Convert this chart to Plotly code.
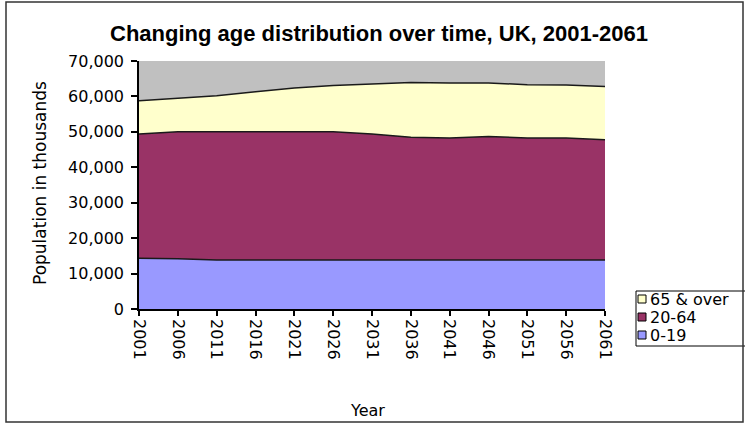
import plotly.graph_objects as go

years = [2001, 2006, 2011, 2016, 2021, 2026, 2031, 2036, 2041, 2046, 2051, 2056, 2061]
age_0_19 = [14300, 14200, 13800, 13800, 13800, 13800, 13800, 13800, 13800, 13800, 13800, 13800, 13800]
age_20_64 = [35100, 35800, 36200, 36200, 36200, 36200, 35600, 34700, 34500, 34900, 34500, 34500, 34000]
age_65_over = [9400, 9600, 10200, 11300, 12400, 13100, 14100, 15400, 15500, 15100, 15000, 14900, 15000]
series_names = ["0-19", "20-64", "65 & over"]
series_colors = ["#9999FF", "#993366", "#FFFFCC"]
y_ticks = [0, 10000, 20000, 30000, 40000, 50000, 60000, 70000]

TXT = "DejaVu Sans"

fig = go.Figure()
for name, vals, col in zip(series_names, [age_0_19, age_20_64, age_65_over], series_colors):
    fig.add_trace(go.Scatter(
        x=years, y=vals, name=name, mode="lines", stackgroup="one",
        line=dict(color="#1a1a1a", width=1.5), fillcolor=col, showlegend=False,
    ))

# plot area in pixels: x 139..605, y 61..309
L, R, T, B = 139, 605, 61, 309
W, H = 745, 424
pw, ph = R - L, B - T
def px(x):
    return (x - L) / pw
def py(y):
    return (B - y) / ph

fig.update_layout(
    width=W, height=H,
    margin=dict(l=L, r=W - R, t=T, b=H - B, pad=0),
    paper_bgcolor="white", plot_bgcolor="#C0C0C0",
    showlegend=False,
    title=dict(text="Changing age distribution over time, UK, 2001-2061",
               x=379 / W, xanchor="center", y=1 - 33 / H, yanchor="middle",
               font=dict(family="Liberation Sans", size=22, color="black", weight="bold")),
    font=dict(family=TXT, size=16, color="black"),
)
fig.update_xaxes(
    range=[years[0], years[-1]], tickvals=years, ticktext=[str(y) for y in years],
    tickangle=90, ticks="outside", ticklen=5, tickcolor="black", tickwidth=1.5,
    showline=True, linecolor="black", linewidth=1.5, showgrid=False, zeroline=False,
    tickfont=dict(family=TXT, size=16, color="black"),
)
fig.update_yaxes(
    range=[0, 70000], tickvals=y_ticks, tickformat=",d",
    ticks="outside", ticklen=6, tickcolor="black", tickwidth=1.5,
    showline=True, linecolor="black", linewidth=1.5, showgrid=False, zeroline=False,
    tickfont=dict(family=TXT, size=16, color="black"), ticklabelstandoff=4,
)
fig.add_annotation(text="Population in thousands", xref="paper", yref="paper",
                   x=px(40), y=py(183), textangle=-90, showarrow=False,
                   xanchor="center", yanchor="middle",
                   font=dict(family=TXT, size=17, color="black"))
fig.add_annotation(text="Year", xref="paper", yref="paper",
                   x=px(367), y=py(410), showarrow=False,
                   xanchor="center", yanchor="middle",
                   font=dict(family=TXT, size=16, color="black"))

# manual legend (reversed order, like the reference)
fig.add_shape(type="rect", xref="paper", yref="paper",
              x0=px(636), x1=px(770), y0=py(346), y1=py(291),
              line=dict(color="black", width=1), fillcolor="white", layer="above")
for i, (name, col) in enumerate(zip(series_names[::-1], series_colors[::-1])):
    cy = 299 + i * 18
    fig.add_shape(type="rect", xref="paper", yref="paper",
                  x0=px(638), x1=px(646), y0=py(cy + 4), y1=py(cy - 4),
                  line=dict(color="black", width=1), fillcolor=col, layer="above")
    fig.add_annotation(text=name, xref="paper", yref="paper",
                       x=px(648), y=py(cy), showarrow=False,
                       xanchor="left", yanchor="middle",
                       font=dict(family=TXT, size=16, color="black"))

# outer chart border
fig.add_shape(type="rect", xref="paper", yref="paper",
              x0=px(6), x1=px(743), y0=py(422), y1=py(2),
              line=dict(color="#333333", width=1.5), layer="above")

fig.write_html("out.html")
